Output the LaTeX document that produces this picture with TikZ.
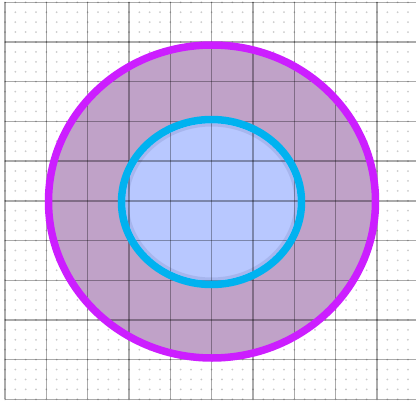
\documentclass[tikz,border=0pt]{standalone}
\usepackage{tikz}
\definecolor{outerfill}{RGB}{192,162,200}
\definecolor{innerfill}{RGB}{184,200,255}
\definecolor{outerline}{RGB}{204,30,255}
\definecolor{innerline}{RGB}{0,178,240}
\definecolor{shadowc}{RGB}{120,130,190}
\tikzset{
  gridline/.style={line width=1.4pt, black, opacity=0.33},
  dotmark/.style={fill=black!20},
  ringline/.style={line width=7.5pt},
}
\begin{document}
\begin{tikzpicture}[x=1pt,y=-1pt]
\useasboundingbox (0,0) rectangle (416,405);
\fill[white] (0,0) rectangle (416,405);
% dots
\foreach \i in {0,...,40}{
  \foreach \j in {0,...,40}{
    \fill[dotmark] ({5+10.333*\i},{2.3+9.925*\j}) circle[radius=1pt];
  }
}
% fills
\fill[outerfill] (212,201.5) ellipse[x radius=163.5pt, y radius=156.5pt];
\fill[innerfill] (211.5,202) ellipse[x radius=90pt, y radius=82.5pt];
\draw[shadowc, line width=3pt, opacity=0.25] (211.5,202) ellipse[x radius=84.5pt, y radius=77pt];
% grid
\foreach \k in {0,...,9}{
  \draw[gridline] ({5+41.333*\k},2.3) -- ({5+41.333*\k},399.3);
}
\foreach \k in {0,...,10}{
  \draw[gridline] (5,{2.3+39.7*\k}) -- (416,{2.3+39.7*\k});
}
% rings
\draw[ringline, outerline] (212,201.5) ellipse[x radius=163.5pt, y radius=156.5pt];
\draw[ringline, innerline] (211.5,202) ellipse[x radius=90pt, y radius=82.5pt];
\end{tikzpicture}
\end{document}
